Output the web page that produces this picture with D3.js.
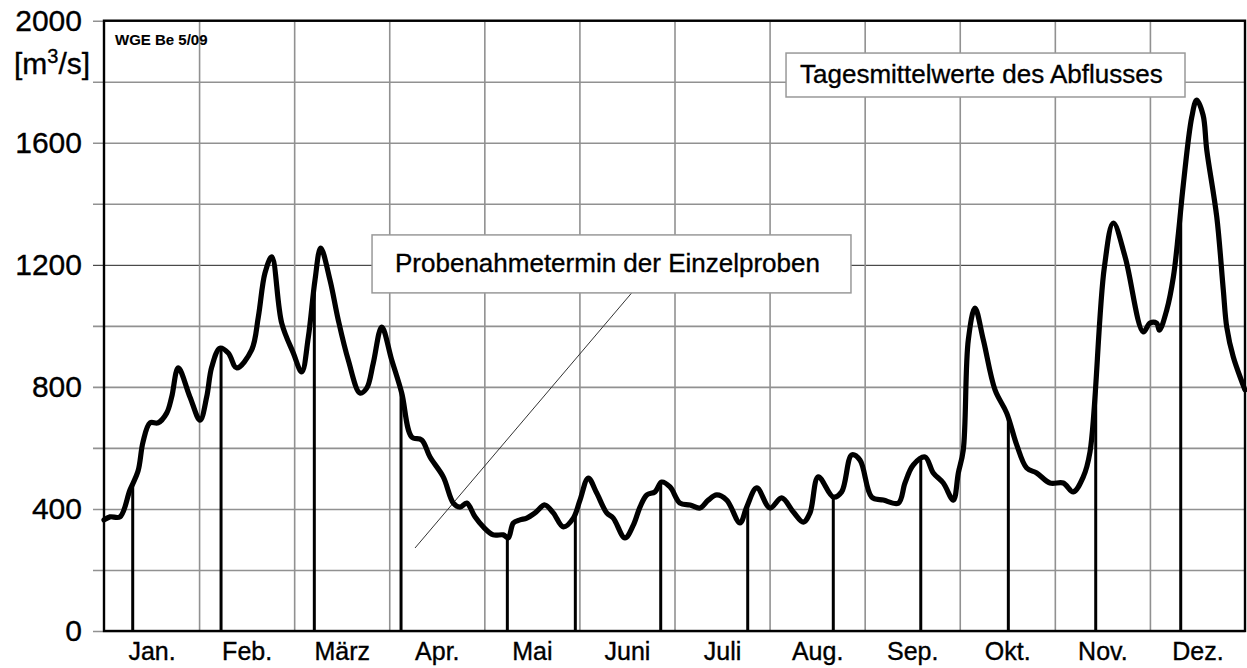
<!DOCTYPE html>
<html>
<head>
<meta charset="utf-8">
<script src="https://cdn.jsdelivr.net/npm/d3@7"></script>
<style>
  body { margin: 0; background: #fff; }
  text { font-family: "Liberation Sans", Arial, Helvetica, sans-serif; fill: #000; stroke: #000; stroke-width: 0.35px; }
</style>
</head>
<body>
<svg width="1247" height="668"></svg>
<script>
// months on the x axis, value axis ticks
const months = ["Jan.", "Feb.", "März", "Apr.", "Mai", "Juni", "Juli", "Aug.", "Sep.", "Okt.", "Nov.", "Dez."];
const yLabels = [0, 400, 800, 1200, 1600, 2000];
const yGrid = [0, 200, 400, 600, 800, 1000, 1200, 1400, 1600, 1800, 2000];

// daily mean discharge, time in months since 1 Jan, value in m3/s
const flowTime = [0.000, 0.063, 0.168, 0.273, 0.358, 0.410, 0.484, 0.568, 0.659, 0.712,
  0.781, 0.904, 1.010, 1.080, 1.133, 1.220, 1.307, 1.396, 1.553, 1.623,
  1.693, 1.764, 1.869, 1.991, 2.079, 2.149, 2.219, 2.279, 2.377, 2.464,
  2.569, 2.692, 2.763, 2.832, 2.921, 3.026, 3.131, 3.236, 3.341, 3.429,
  3.568, 3.674, 3.744, 3.815, 3.902, 3.989, 4.094, 4.199, 4.252, 4.305,
  4.375, 4.446, 4.533, 4.638, 4.725, 4.831, 4.936, 5.006, 5.093, 5.182,
  5.287, 5.356, 5.479, 5.567, 5.637, 5.708, 5.795, 5.865, 5.953, 6.058,
  6.163, 6.268, 6.355, 6.444, 6.549, 6.689, 6.759, 6.865, 7.004, 7.127,
  7.250, 7.355, 7.425, 7.512, 7.670, 7.758, 7.864, 7.951, 8.074, 8.196,
  8.354, 8.424, 8.511, 8.635, 8.722, 8.827, 8.932, 8.985, 9.037, 9.090,
  9.160, 9.248, 9.371, 9.494, 9.599, 9.704, 9.809, 9.949, 10.089, 10.194,
  10.299, 10.370, 10.520, 10.615, 10.740, 10.930, 11.000, 11.070, 11.100, 11.177,
  11.247, 11.300, 11.351, 11.440, 11.492, 11.559, 11.598, 11.703, 11.772, 11.808,
  11.877, 12.000];
const flowValue = [364, 374, 374, 462, 524, 619, 682, 682, 714, 767,
  862, 767, 691, 767, 865, 927, 911, 862, 921, 1029,
  1173, 1226, 1009, 911, 849, 963, 1150, 1255, 1150, 1019,
  888, 780, 796, 878, 996, 888, 780, 636, 626, 570,
  505, 419, 406, 419, 374, 341, 315, 315, 305, 354,
  364, 370, 387, 413, 387, 341, 370, 429, 501, 452,
  387, 370, 305, 347, 406, 446, 456, 488, 472, 419,
  413, 403, 429, 446, 429, 354, 406, 469, 403, 436,
  390, 357, 387, 505, 439, 456, 577, 560, 439, 429,
  419, 485, 544, 570, 518, 485, 429, 518, 593, 954,
  1058, 954, 790, 714, 610, 534, 518, 485, 485, 456,
  505, 587, 1190, 1337, 1225, 980, 1009, 1009, 986, 1052,
  1161, 1304, 1462, 1684, 1740, 1691, 1576, 1357, 1117, 996,
  898, 790];

// dates of the single samples (months since 1 Jan)
const sampleTime = [0.302, 1.231, 2.212, 3.124, 4.242, 4.957, 5.855, 6.770, 7.670, 8.590, 9.511, 10.430, 11.324];

const plotLeft = 104, plotRight = 1245, plotTop = 20.7, plotBottom = 631;

const svg = d3.select("svg");

const x = d3.scaleLinear().domain([0, 12]).range([plotLeft, plotRight]);
const y = d3.scaleLinear().domain([0, 2000]).range([plotBottom, plotTop]);

const flow = flowTime.map((t, i) => ({ t: t, v: flowValue[i] }));

// value of the flow curve at a sample date
function flowAt(t) {
  const i = Math.max(1, d3.bisector(d => d.t).left(flow, t));
  const a = flow[i - 1], b = flow[i];
  return a.v + (b.v - a.v) * (t - a.t) / (b.t - a.t);
}

// horizontal grid + value labels
const yAxis = d3.axisLeft(y)
  .tickValues(yGrid)
  .tickSize(-(plotRight - 93))
  .tickPadding(11)
  .tickFormat(d => yLabels.includes(d) ? d : "");
const gy = svg.append("g").attr("transform", "translate(93,0)").call(yAxis);
gy.select(".domain").remove();
gy.selectAll(".tick line")
  .attr("stroke", d => d === 1200 ? "#222" : "#919191")
  .attr("stroke-width", d => d === 1200 ? 1 : 1.6);
gy.selectAll(".tick text").style("font-size", "30px").attr("fill", "#000");

// vertical grid at month boundaries
const gx = svg.append("g").attr("transform", `translate(0,${plotBottom})`)
  .call(d3.axisBottom(x).tickValues(d3.range(1, 12)).tickSize(-(plotBottom - plotTop)).tickFormat(""));
gx.select(".domain").remove();
gx.selectAll(".tick line").attr("stroke", "#919191").attr("stroke-width", 1.6);

// month names
const gm = svg.append("g").attr("transform", `translate(0,${plotBottom})`)
  .call(d3.axisBottom(x).tickValues(d3.range(12).map(i => i + 0.5)).tickSize(0).tickPadding(11)
    .tickFormat((d, i) => months[i]));
gm.select(".domain").remove();
gm.selectAll(".tick text").style("font-size", "25px").attr("fill", "#000");

// leader line of the sample label
svg.append("line")
  .attr("x1", x(5.55)).attr("y1", y(1108))
  .attr("x2", x(3.271)).attr("y2", y(272))
  .attr("stroke", "#333").attr("stroke-width", 1);

// sample dates
svg.append("g").selectAll("line")
  .data(sampleTime)
  .join("line")
  .attr("x1", d => x(d)).attr("x2", d => x(d))
  .attr("y1", y(0)).attr("y2", d => y(flowAt(d)))
  .attr("stroke", "#000").attr("stroke-width", 3);

// daily mean discharge
const line = d3.line()
  .x(d => x(d.t))
  .y(d => y(d.v))
  .curve(d3.curveCatmullRom.alpha(0.5));

svg.append("path")
  .attr("d", line(flow))
  .attr("fill", "none")
  .attr("stroke", "#000")
  .attr("stroke-width", 5.2)
  .attr("stroke-linejoin", "round")
  .attr("stroke-linecap", "round");

// plot frame
svg.append("rect")
  .attr("x", plotLeft).attr("y", plotTop)
  .attr("width", plotRight - plotLeft).attr("height", plotBottom - plotTop)
  .attr("fill", "none").attr("stroke", "#000").attr("stroke-width", 2.4);

// unit label and stamp
const unit = svg.append("text").attr("x", 14).attr("y", 74).style("font-size", "30px");
unit.append("tspan").text("[m");
unit.append("tspan").text("3").style("font-size", "20px").attr("dy", -11);
unit.append("tspan").text("/s]").attr("dy", 11);

svg.append("text").attr("x", 115).attr("y", 45)
  .style("font-size", "15px").style("font-weight", "bold").style("stroke-width", "0.1px")
  .text("WGE Be 5/09");

// boxed annotations
function box(x0, y0, x1, y1, label, tx, ty) {
  svg.append("rect")
    .attr("x", x(x0)).attr("y", y(y0))
    .attr("width", x(x1) - x(x0)).attr("height", y(y1) - y(y0))
    .attr("fill", "#fff").attr("stroke", "#999").attr("stroke-width", 1.5);
  svg.append("text").attr("x", tx).attr("y", ty).style("font-size", "26px").text(label);
}
box(7.173, 1894, 11.369, 1750, "Tagesmittelwerte des Abflusses", 800, 83);
box(2.819, 1298, 7.856, 1108, "Probenahmetermin der Einzelproben", 395, 272);
</script>
</body>
</html>
